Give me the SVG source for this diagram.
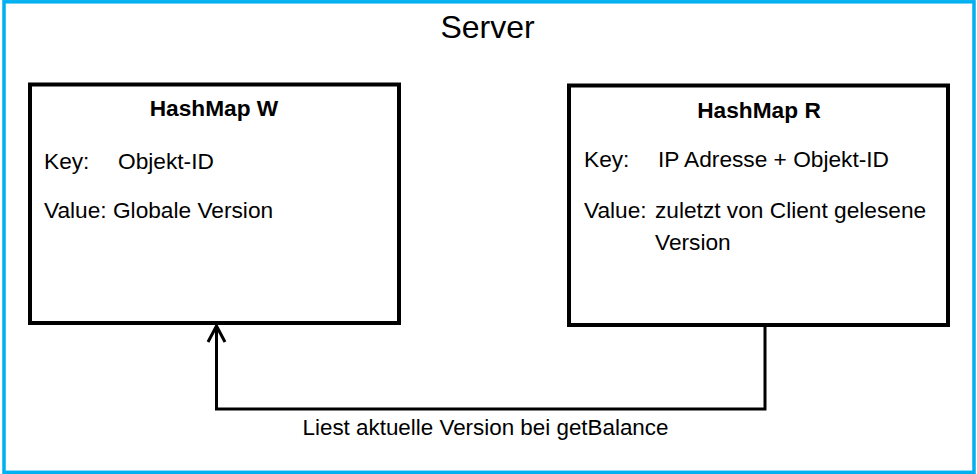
<svg xmlns="http://www.w3.org/2000/svg" width="977" height="474" viewBox="0 0 977 474">
  <style>
    text { font-family: "Liberation Sans", Arial, sans-serif; fill: #000; }
    .title { font-size: 32px; }
    .head { font-size: 22.7px; font-weight: bold; }
    .body { font-size: 22.7px; }
    .label { font-size: 22.4px; }
    .box { fill: #fff; stroke: #000; stroke-width: 4; }
    .conn { fill: none; stroke: #000; stroke-width: 3; }
  </style>
  <defs>
    <marker id="openArrow" markerUnits="userSpaceOnUse" markerWidth="24" markerHeight="24" viewBox="0 0 24 24" refX="20" refY="12" orient="auto">
      <path d="M4,3.5 L20,12 L4,20.5" fill="none" stroke="#000" stroke-width="3"/>
    </marker>
  </defs>
  <rect width="977" height="474" fill="#fff"/>
  <g id="server">
    <rect x="4" y="1.8" width="970" height="470.5" fill="none" stroke="#00b0f0" stroke-width="3.5"/>
    <text class="title" x="487.5" y="38" text-anchor="middle">Server</text>
  </g>
  <g id="hashmap-w">
    <rect class="box" x="30" y="84.5" width="369" height="238.5"/>
    <text class="head" x="214" y="116" text-anchor="middle">HashMap W</text>
    <text class="body" x="44" y="169">Key:<tspan x="118">Objekt-ID</tspan></text>
    <text class="body" x="44" y="218">Value: Globale Version</text>
  </g>
  <g id="hashmap-r">
    <rect class="box" x="569" y="85.5" width="379" height="239.5"/>
    <text class="head" x="759" y="118" text-anchor="middle">HashMap R</text>
    <text class="body" x="584" y="167">Key:<tspan x="658">IP Adresse + Objekt-ID</tspan></text>
    <text class="body" x="584" y="218">Value:<tspan x="655">zuletzt von Client gelesene</tspan></text>
    <text class="body" x="655" y="250">Version</text>
  </g>
  <g id="connectors">
    <path class="conn" d="M765,327 L765,409 L216.5,409 L216.5,326" marker-end="url(#openArrow)"/>
    <text class="label" x="485.5" y="435" text-anchor="middle">Liest aktuelle Version bei getBalance</text>
  </g>
</svg>
